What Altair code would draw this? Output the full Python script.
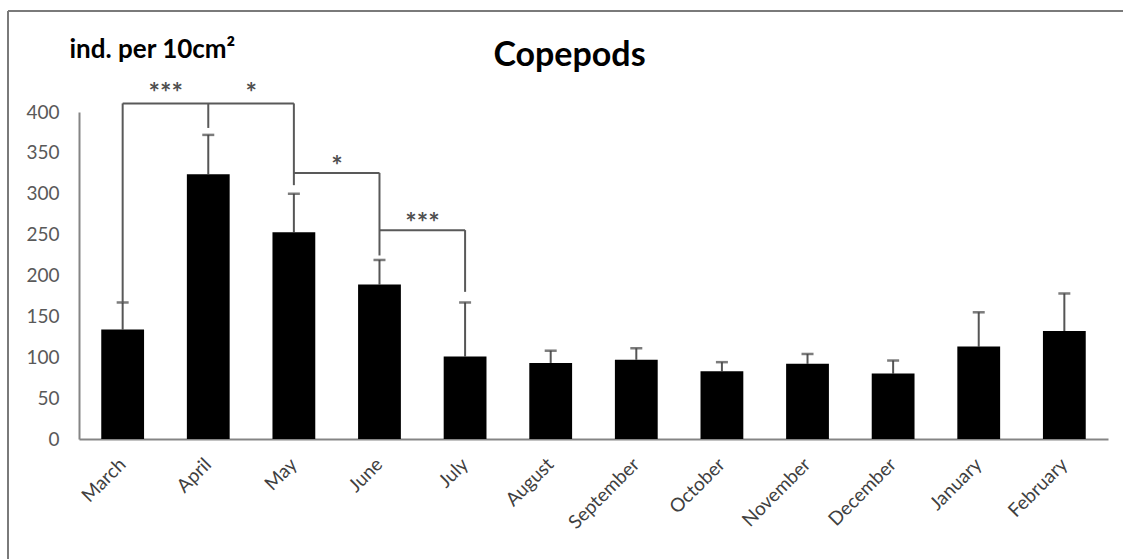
import altair as alt
import pandas as pd

# ---- data ----
months = ["March", "April", "May", "June", "July", "August", "September",
          "October", "November", "December", "January", "February"]
means = [134, 324, 253, 189, 101, 93, 97, 83, 92, 80, 113, 132]
errors = [33, 48, 47, 30, 66, 15, 14, 11, 12, 16, 42, 46]

# significance brackets
h_from = ["March", "May", "June"]
h_to = ["May", "June", "July"]
h_level = [410.5, 325.5, 255.5]
v_month = ["March", "April", "May", "June", "July"]
v_top = [410.5, 410.5, 410.5, 325.5, 255.5]
v_bottom = [167, 380.5, 310.5, 224.5, 180]
star_month = ["March", "April", "May", "June"]   # left bar of each pair
star_text = ["***", "*", "*", "***"]
star_level = [431.5, 431.5, 342, 272.5]

y_ticks = [0, 50, 100, 150, 200, 250, 300, 350, 400]

df = pd.DataFrame({"month": months, "mean": means, "err": errors})
df["upper"] = df["mean"] + df["err"]
hdf = pd.DataFrame({"a": h_from, "b": h_to, "level": h_level})
vdf = pd.DataFrame({"month": v_month, "top": v_top, "bottom": v_bottom})
sdf = pd.DataFrame({"month": star_month, "t": star_text, "level": star_level})

FONT = "Lato"
YT = "ind. per 10cm²"
xscale = alt.Scale(domain=months, paddingInner=0.5, paddingOuter=0.26)
yscale = alt.Scale(domain=[0, 400], nice=False, zero=True)
GREY = "#858585"

x_axis = alt.Axis(labelAngle=-45, labelFont=FONT, labelFontSize=19,
                  labelColor="#404040", ticks=False, domainColor=GREY,
                  domainWidth=2, labelPadding=22)
y_axis = alt.Axis(values=y_ticks, grid=False, ticks=False, domainColor=GREY,
                  domainWidth=2, labelFont=FONT, labelFontSize=19,
                  labelColor="#595959", labelPadding=20,
                  titleAngle=0, titleX=-10, titleY=-55, titleAlign="left",
                  titleBaseline="alphabetic", titleFont=FONT, titleFontSize=26,
                  titleFontWeight="bold", titleColor="black")

bars = alt.Chart(df).mark_bar(color="black").encode(
    x=alt.X("month:N", scale=xscale, sort=months, axis=x_axis, title=None),
    y=alt.Y("mean:Q", scale=yscale, axis=y_axis, title=YT),
)
err_rule = alt.Chart(df).mark_rule(color="#555555", strokeWidth=2).encode(
    x=alt.X("month:N", title=None),
    y=alt.Y("mean:Q", title=YT),
    y2="upper:Q",
)
caps = alt.Chart(df).mark_tick(color="#444444", thickness=2.5, size=12).encode(
    x=alt.X("month:N", title=None),
    y=alt.Y("upper:Q", title=YT),
)
hlines = alt.Chart(hdf).mark_rule(color="#595959", strokeWidth=2).encode(
    x=alt.X("a:N", title=None),
    x2="b:N",
    y=alt.Y("level:Q", title=YT),
)
vlines = alt.Chart(vdf).mark_rule(color="#595959", strokeWidth=2).encode(
    x=alt.X("month:N", title=None),
    y=alt.Y("top:Q", title=YT),
    y2="bottom:Q",
)
stars = alt.Chart(sdf).mark_text(font=FONT, fontSize=27, fontWeight="bold",
                                 color="#505050", baseline="middle",
                                 dx=43, dy=8).encode(
    x=alt.X("month:N", title=None),
    y=alt.Y("level:Q", title=YT),
    text="t:N",
)

one = pd.DataFrame({"k": [0]})
border_top = alt.Chart(one).mark_rule(color="#7a7a7a", strokeWidth=2).encode(
    x=alt.value(-71), x2=alt.value(1060), y=alt.value(-101))
border_left = alt.Chart(one).mark_rule(color="#7a7a7a", strokeWidth=2).encode(
    x=alt.value(-71), y=alt.value(-101), y2=alt.value(460))

chart = alt.layer(border_top, border_left, err_rule, caps, bars, hlines, vlines, stars).properties(
    width=1029, height=327,
    padding={"left": 79, "top": 112, "right": 15, "bottom": 120},
    autosize=alt.AutoSizeParams(type="none"),
    title=alt.TitleParams("Copepods", font=FONT, fontSize=34, fontWeight="bold",
                          color="black", anchor="middle", dx=-24, dy=67),
).configure(background="white").configure_view(stroke=None)

chart.save("out.html", embed_options={"renderer": "svg", "actions": False})
